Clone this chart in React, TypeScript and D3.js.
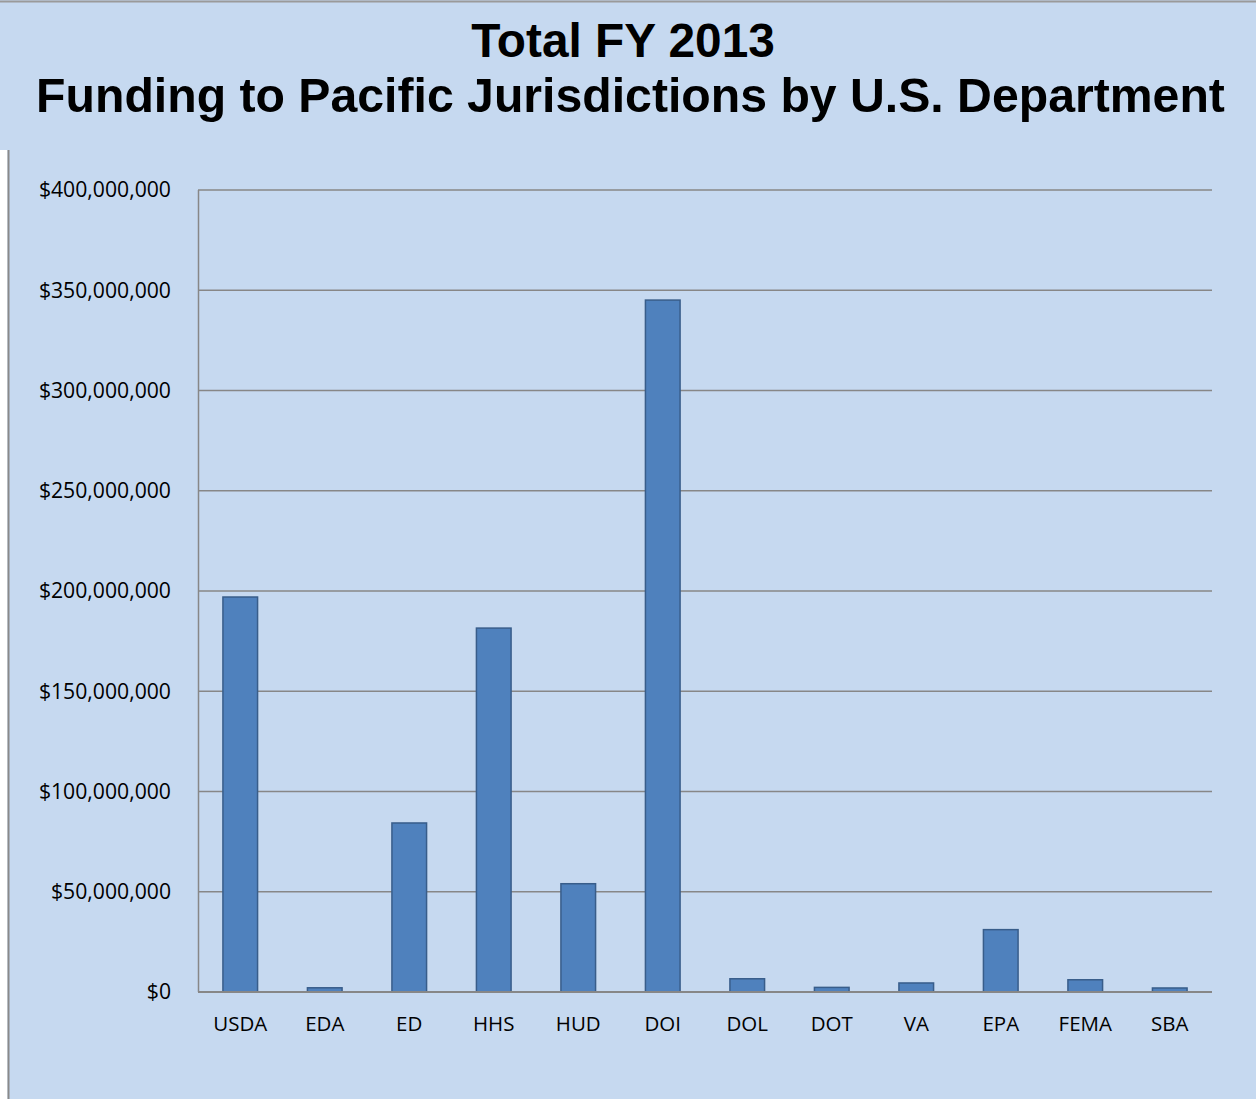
import React from "react";
import * as d3 from "d3";

const categories = ["USDA", "EDA", "ED", "HHS", "HUD", "DOI", "DOL", "DOT", "VA", "EPA", "FEMA", "SBA"];
const values = [197000000, 2100000, 84300000, 181500000, 54000000, 345100000, 6600000, 2300000, 4500000, 31100000, 6100000, 2000000];
const yTicks = [0, 50000000, 100000000, 150000000, 200000000, 250000000, 300000000, 350000000, 400000000];
const titleLines = ["Total FY 2013", "Funding to Pacific Jurisdictions by U.S. Department"];

const W = 1256;
const H = 1099;
const BG = "#C6D9F0";
const GRID = "#878787";

export default function App() {
  const x = d3.scaleBand<string>().domain(categories).range([198, 1212]).paddingInner(0.59).paddingOuter(0.295);
  const y = d3.scaleLinear().domain([0, 400000000]).range([992, 190]);
  const fmt = (v: number) => "$" + d3.format(",")(v);
  const labelFont = "'Open Sans', sans-serif";

  return (
    <svg width={W} height={H} style={{ position: "absolute", left: 0, top: 0, display: "block" }}>
      <rect x={0} y={0} width={W} height={H} fill={BG} />
      <rect x={0} y={150} width={7.5} height={H - 150} fill="#ffffff" />
      <line x1={8.5} x2={8.5} y1={150} y2={H} stroke="#8a8a8a" strokeWidth={2} />
      <line x1={0} x2={W} y1={1.5} y2={1.5} stroke="#9a9a9a" strokeWidth={2} />

      <text x={623} y={57} textAnchor="middle" fontFamily="'Liberation Sans', Arial, sans-serif" fontWeight="bold" fontSize={47.8} fill="#000">
        {titleLines[0]}
      </text>
      <text x={630.5} y={112} textAnchor="middle" fontFamily="'Liberation Sans', Arial, sans-serif" fontWeight="bold" fontSize={48.2} fill="#000">
        {titleLines[1]}
      </text>

      {yTicks.map((t) => (
        <g key={t}>
          <line x1={198} x2={1212} y1={y(t)} y2={y(t)} stroke={GRID} strokeWidth={1.5} />
          <text x={171} y={y(t)} dy="0.35em" textAnchor="end" fontFamily={labelFont} fontSize={21.2} fill="#000">
            {fmt(t)}
          </text>
        </g>
      ))}
      <line x1={198.5} x2={198.5} y1={y(400000000)} y2={y(0)} stroke={GRID} strokeWidth={1.5} />

      {categories.map((c, i) => (
        <rect
          key={c}
          x={x(c)}
          y={y(values[i])}
          width={x.bandwidth()}
          height={y(0) - y(values[i])}
          fill="#4F81BD"
          stroke="#385D8A"
          strokeWidth={1.5}
        />
      ))}
      <line x1={198} x2={1212} y1={y(0)} y2={y(0)} stroke={GRID} strokeWidth={2} />

      {categories.map((c) => (
        <text key={c} x={(x(c) as number) + x.bandwidth() / 2} y={1031} textAnchor="middle" fontFamily={labelFont} fontSize={20.5} fill="#000">
          {c}
        </text>
      ))}
    </svg>
  );
}
